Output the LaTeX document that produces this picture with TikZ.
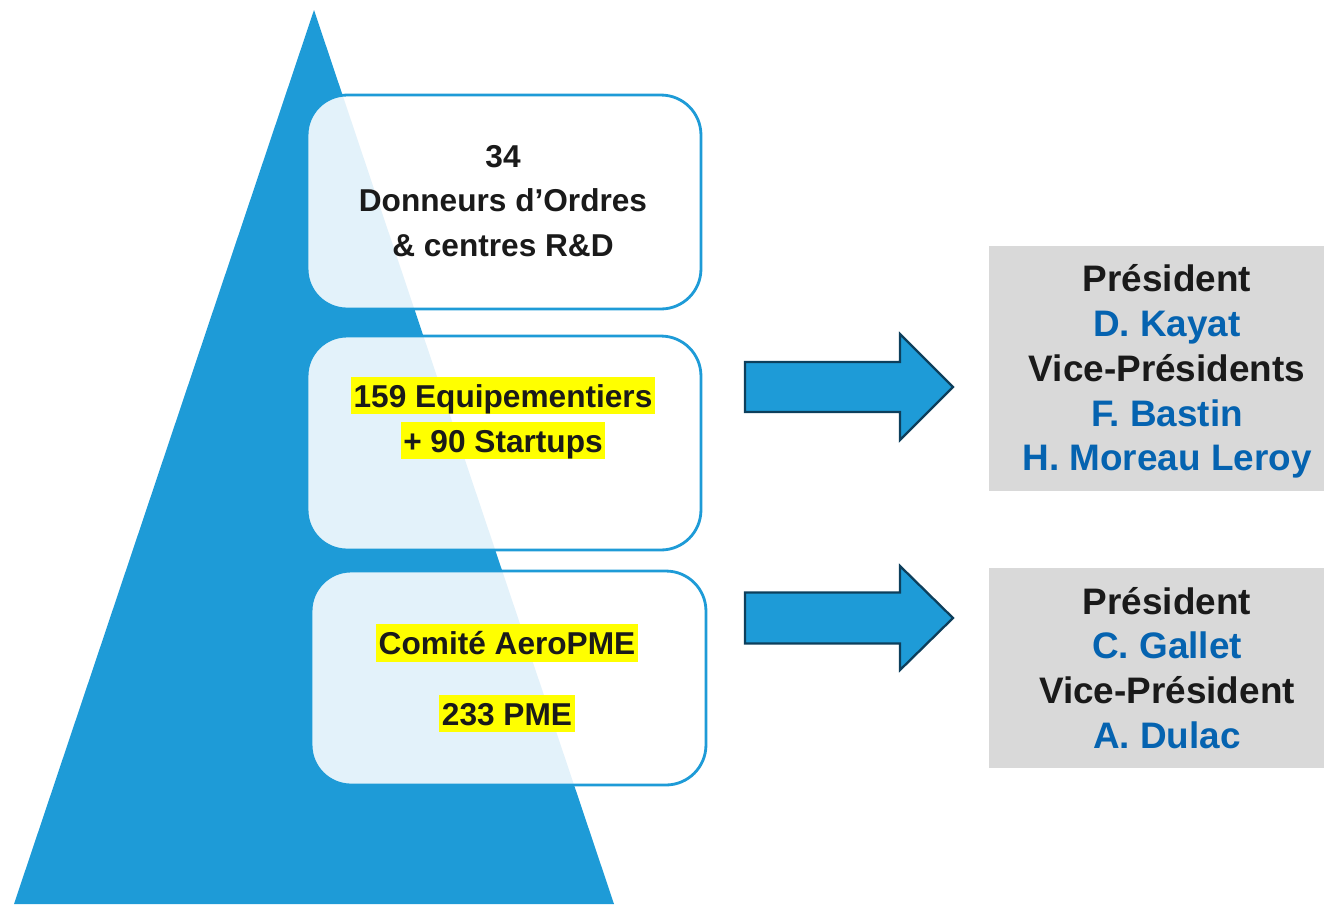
\documentclass[tikz,border=0pt]{standalone}
\usepackage{fontspec}
\setmainfont{Liberation Sans}
\definecolor{triblue}{HTML}{1E9BD7}
\definecolor{namblue}{HTML}{0563B0}
\definecolor{arrowedge}{HTML}{0D3F5C}
\definecolor{panelgray}{HTML}{D9D9D9}
\definecolor{hlyellow}{HTML}{FFFF00}
\definecolor{textblack}{HTML}{1A1A1A}
\newcommand{\hlt}[1]{{\setlength{\fboxsep}{0pt}\colorbox{hlyellow}{\rule[-0.21em]{0pt}{1.19em}\hspace{1.5pt}#1\hspace{1.5pt}}}}
\begin{document}
\begin{tikzpicture}[x=0.02cm,y=-0.02cm,
  tierbox/.style={draw=triblue, line width=1.6pt, fill=white, fill opacity=0.88, text opacity=1, rounded corners=0.8cm, inner sep=0pt},
  tiertext/.style={align=center, text=textblack, font=\fontsize{18}{25.5}\selectfont\bfseries},
  panel/.style={fill=panelgray, draw=none, inner sep=0pt, align=center, text=textblack, font=\fontsize{21}{25.5}\selectfont\bfseries},
  blockarrow/.style={fill=triblue, draw=arrowedge, line width=1.3pt, line join=miter}]
\useasboundingbox (0,0) rectangle (1324,904);
% pyramid
\fill[triblue] (314,10) -- (614,904) -- (14,904) -- cycle;
% tier boxes
\node[tierbox, minimum width=7.88cm, minimum height=4.28cm] (tier1) at (504,202) {};
\node[tierbox, minimum width=7.88cm, minimum height=4.28cm] (tier2) at (504,443) {};
\node[tierbox, minimum width=7.90cm, minimum height=4.28cm] (tier3) at (508.5,678) {};
% tier texts
\node[tiertext] (t1) at (503,201) {34\\Donneurs d’Ordres\\\& centres R\&D};
\node[tiertext] (t2) at (503,418) {\hlt{159 Equipementiers}\\\hlt{+ 90 Startups}};
\node[tiertext] (t3) at (507,678) {\hlt{Comité AeroPME}\\[14.7pt]\hlt{233 PME}};
% block arrows
\draw[blockarrow, shift={(745,387)}] (0,-25) -- (155,-25) -- (155,-53) -- (208,0) -- (155,53) -- (155,25) -- (0,25) -- cycle;
\draw[blockarrow, shift={(745,618)}] (0,-25.5) -- (155,-25.5) -- (155,-52) -- (208,0) -- (155,52) -- (155,25.5) -- (0,25.5) -- cycle;
% panels
\node[panel, minimum width=6.7cm, minimum height=4.9cm] (pres1) at (1156.5,368.5) {};
\node[panel, fill=none] (p1text) at (1167,371.5) {Président\\\textcolor{namblue}{D. Kayat}\\Vice-Présidents\\\textcolor{namblue}{F. Bastin}\\\textcolor{namblue}{H. Moreau Leroy}};
\node[panel, minimum width=6.7cm, minimum height=4.0cm] (pres2) at (1156.5,668) {};
\node[panel, fill=none] (p2text) at (1167,668) {Président\\\textcolor{namblue}{C. Gallet}\\Vice-Président\\\textcolor{namblue}{A. Dulac}};
\end{tikzpicture}
\end{document}
